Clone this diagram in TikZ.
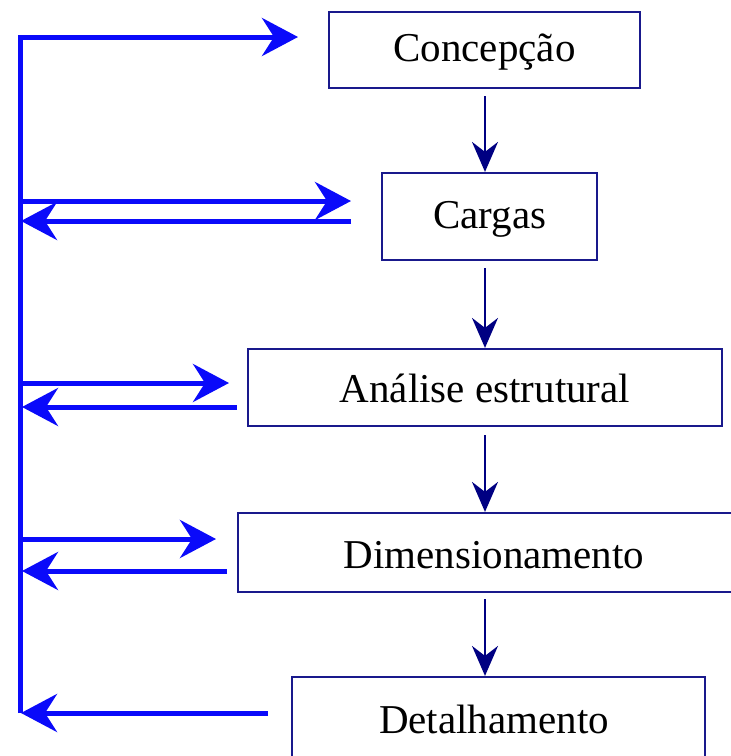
\documentclass[tikz,border=0pt]{standalone}
\usepackage{fontspec}
\setmainfont{Liberation Serif}
\usetikzlibrary{arrows.meta}
\definecolor{flowblue}{RGB}{10,10,250}
\definecolor{boxnavy}{RGB}{25,25,140}
\definecolor{downnavy}{RGB}{0,0,130}
\tikzset{
  stagebox/.style={draw=boxnavy, line width=2.2pt, fill=white, inner sep=0pt},
  stagetext/.style={text=black, font=\fontsize{41}{48}\selectfont, inner sep=0pt},
  bluearrow/.style={draw=flowblue, line width=5pt, line join=miter,
    -{Stealth[length=36pt,width=38pt,inset=12pt]}},
  downarrow/.style={draw=downnavy, line width=2.2pt,
    -{Stealth[length=30pt,width=26pt,inset=10pt]}}
}
\begin{document}
\begin{tikzpicture}[x=1pt,y=-1pt]
\useasboundingbox (0,0) rectangle (731,756);
\clip (0,0) rectangle (731,756);

% boxes
\node[stagebox, minimum width=311pt, minimum height=76pt] (conc) at (484.5,50) {};
\node[stagetext] (conct) at (484.5,52) {Concepção};
\node[stagebox, minimum width=215pt, minimum height=87pt] (carg) at (489.5,216.5) {};
\node[stagetext] (cargt) at (490,219) {Cargas};
\node[stagebox, minimum width=474pt, minimum height=77pt] (anal) at (485,387.5) {};
\node[stagetext] (analt) at (485,388) {Análise estrutural};
\node[stagebox, minimum width=514pt, minimum height=79pt] (dim) at (495,552.5) {};
\node[stagetext] (dimt) at (494,555) {Dimensionamento};
\node[stagebox, minimum width=413pt, minimum height=88pt] (det) at (498.5,721) {};
\node[stagetext] (dett) at (494,719) {Detalhamento};

% downward arrows
\coordinate (ax) at (485,0);
\draw[downarrow] ([yshift=-7pt]conc.south -| ax) -- (carg.north -| ax);
\draw[downarrow] ([yshift=-7pt]carg.south -| ax) -- (anal.north -| ax);
\draw[downarrow] ([yshift=-8pt]anal.south -| ax) -- (dim.north -| ax);
\draw[downarrow] ([yshift=-6pt]dim.south -| ax) -- (det.north -| ax);

% feedback spine
\coordinate (vtop) at (20,37);
\coordinate (vbot) at (20,713);
\coordinate (t0) at (298,37);
\draw[bluearrow] (vbot) -- (vtop) -- (t0);

% Cargas
\coordinate (c1a) at (20,201);
\coordinate (c1b) at (351,201);
\coordinate (c2a) at (351,221);
\coordinate (c2b) at (21,221);
\draw[bluearrow] (c1a) -- (c1b);
\draw[bluearrow] (c2a) -- (c2b);

% Analise
\coordinate (a1a) at (20,383);
\coordinate (a1b) at (229,383);
\coordinate (a2a) at (237,407);
\coordinate (a2b) at (22,407);
\draw[bluearrow] (a1a) -- (a1b);
\draw[bluearrow] (a2a) -- (a2b);

% Dimensionamento
\coordinate (d1a) at (20,539);
\coordinate (d1b) at (216,539);
\coordinate (d2a) at (227,571);
\coordinate (d2b) at (22,571);
\draw[bluearrow] (d1a) -- (d1b);
\draw[bluearrow] (d2a) -- (d2b);

% Detalhamento
\coordinate (e2a) at (268,713);
\coordinate (e2b) at (21,713);
\draw[bluearrow] (e2a) -- (e2b);
\end{tikzpicture}
\end{document}
